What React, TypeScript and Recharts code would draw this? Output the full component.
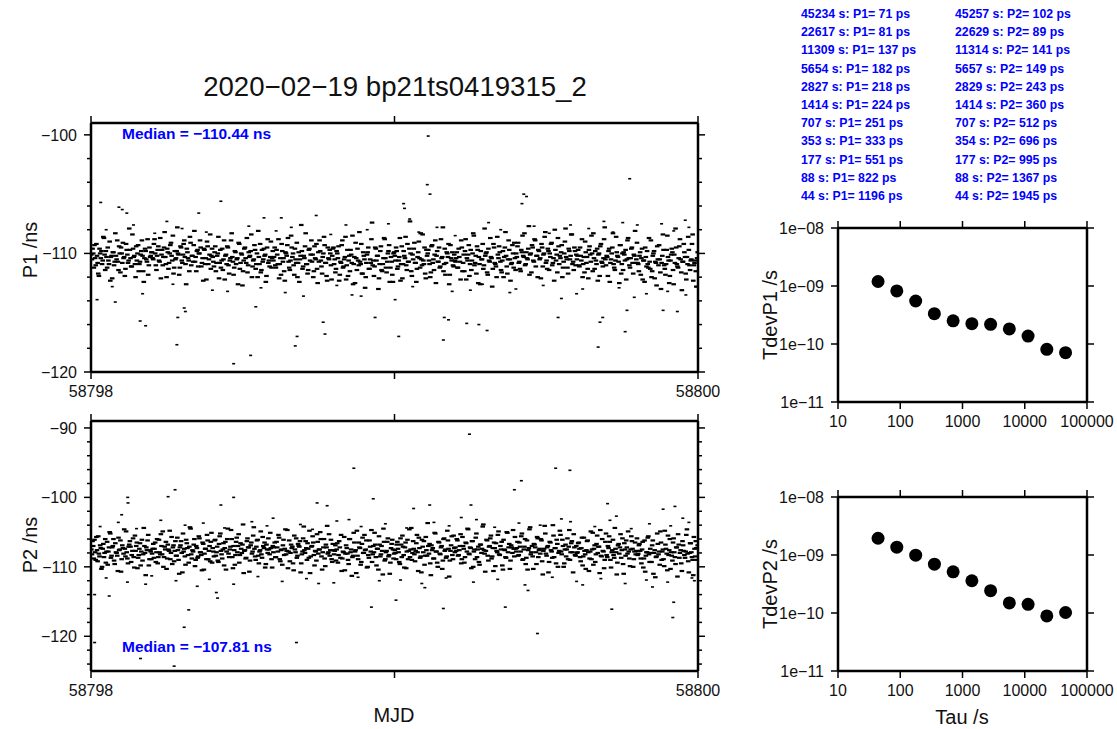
import { ScatterChart, Scatter, XAxis, YAxis } from 'recharts';

// ---- data ----
const MJD_START = 58798;
const MJD_END = 58800;

// P1 samples (ns), two interleaved sample sets spread evenly over the two days
const P1_BAND_A = [
  -110.1, -109.6, -111.2, -110.4, -109.2, -110.8, -111.9, -110.0, -109.8, -110.6, -108.7, -111.4, -110.3, -109.5, -110.9, -112.3, -110.2, -109.9, -111.0, -108.3, -110.5, -110.7, -109.4, -111.6, -110.0, -109.1, -110.3, -111.3, -109.7, -110.8, -107.9, -110.4, -111.1, -109.6, -110.2, -112.0, -110.6, -109.3, -110.9, -110.1, -108.9, -111.5, -110.4, -109.8, -110.7, -111.8, -109.5, -110.2,
  -109.9, -110.5, -108.8, -111.0, -110.2, -109.4, -110.7, -112.1, -109.7, -110.3, -108.2, -110.9, -109.6, -111.3, -110.0, -109.1, -110.6, -111.7, -109.8, -110.4, -107.8, -110.1, -111.2, -109.5, -110.8, -109.2, -110.3, -112.6, -109.9, -110.6, -108.6, -111.0, -110.2, -109.3, -110.7, -111.5, -109.7, -110.0, -108.9, -111.1, -110.4, -109.6, -110.9, -112.2, -109.4, -110.5, -108.4, -110.2,
  -110.3, -111.1, -109.4, -110.8, -110.0, -112.1, -109.7, -110.6, -111.4, -108.9, -110.2, -110.9, -109.5, -111.7, -110.4, -108.3, -110.7, -111.2, -109.9, -110.5, -112.6, -109.2, -110.8, -110.1, -111.5, -109.6, -110.4, -108.7, -111.0, -110.3, -109.8, -112.0, -110.6, -109.3, -111.3, -110.0, -108.1, -110.9, -111.6, -109.7, -110.5, -110.2, -112.4, -109.5, -110.8, -111.1, -109.0, -110.4,
  -110.6, -109.5, -111.2, -110.1, -108.8, -110.9, -111.8, -109.8, -110.4, -112.3, -110.0, -109.3, -110.7, -111.4, -108.5, -110.3, -111.0, -109.6, -110.8, -112.0, -109.9, -110.5, -107.6, -111.3, -110.2, -109.4, -110.9, -111.7, -109.7, -110.6, -108.9, -110.1, -111.5, -110.4, -109.2, -112.5, -110.7, -109.8, -111.1, -110.3, -108.6, -110.8, -111.9, -109.5, -110.5, -110.0, -112.2, -109.6,
  -110.9, -111.6, -109.8, -110.4, -112.3, -110.7, -109.3, -111.2, -110.5, -108.6, -111.0, -111.9, -110.2, -109.7, -110.8, -112.6, -110.3, -109.1, -111.4, -110.6, -108.2, -110.9, -111.7, -109.9, -110.5, -112.0, -110.1, -109.5, -111.3, -110.8, -107.4, -110.6, -111.1, -109.6, -110.2, -113.0, -110.9, -109.4, -111.5, -110.4, -108.8, -111.2, -110.7, -109.8, -112.4, -110.3, -111.8, -110.0,
  -110.2, -109.5, -111.3, -110.6, -108.7, -110.9, -112.1, -109.8, -110.4, -111.0, -109.2, -110.7, -107.3, -111.5, -110.1, -109.6, -110.8, -112.4, -110.3, -109.0, -111.2, -110.5, -108.4, -110.9, -111.7, -109.7, -110.0, -110.6, -112.0, -109.4, -110.8, -111.4, -108.9, -110.2, -110.7, -109.5, -111.1, -110.4, -107.8, -110.9, -111.8, -109.9, -110.3, -112.6, -109.3, -110.6, -111.0, -110.1,
  -110.7, -109.9, -111.2, -110.3, -112.2, -109.5, -110.8, -111.5, -108.8, -110.4, -110.1, -111.9, -109.7, -110.6, -108.3, -111.0, -110.2, -109.4, -112.5, -110.9, -109.8, -110.5, -111.3, -107.9, -110.0, -111.6, -109.6, -110.7, -110.3, -112.8, -109.2, -110.8, -111.1, -108.6, -110.4, -109.9, -111.4, -110.6, -112.0, -109.5, -110.2, -111.7, -108.9, -110.5, -110.9, -109.3, -111.2, -110.4,
  -110.0, -109.4, -110.8, -111.3, -109.7, -108.5, -110.3, -111.0, -109.9, -110.5, -107.7, -110.1, -111.6, -109.5, -110.7, -108.9, -110.2, -112.0, -109.8, -110.4, -109.2, -111.1, -110.0, -108.2, -110.6, -109.6, -111.4, -110.3, -109.1, -110.8, -112.3, -109.7, -110.1, -108.7, -110.9, -110.4, -109.3, -111.2, -110.0, -107.9, -110.5, -111.7, -109.8, -110.2, -108.4, -110.7, -109.5, -111.0,
  -110.5, -109.7, -111.1, -110.2, -108.8, -110.9, -111.6, -109.9, -110.3, -112.1, -109.4, -110.7, -110.0, -108.3, -111.3, -110.6, -109.6, -110.1, -111.9, -109.2, -110.8, -110.4, -107.8, -111.0, -110.3, -109.8, -112.4, -110.5, -109.5, -110.9, -111.4, -108.6, -110.2, -110.7, -109.3, -111.7, -110.0, -109.9, -110.6, -112.2, -108.9, -110.4, -111.2, -109.6, -110.8, -110.1, -108.1, -110.5,
  -110.8, -111.5, -109.9, -110.4, -112.2, -110.6, -109.5, -111.1, -110.9, -108.7, -111.3, -112.0, -110.2, -109.8, -110.7, -112.7, -110.5, -109.3, -111.6, -110.8, -108.4, -111.0, -111.8, -109.7, -110.3, -112.5, -110.6, -109.6, -111.4, -110.1, -107.9, -110.9, -111.2, -109.4, -110.5, -113.1, -110.7, -109.9, -111.7, -110.3, -108.6, -111.0, -110.6, -109.2, -112.3, -110.8, -111.5, -110.4,
];
const P1_BAND_B = [
  -110.5, -110.0, -109.3, -111.0, -110.2, -111.7, -109.6, -110.4, -110.9, -108.6, -110.1, -109.8, -111.2, -110.6, -109.0, -110.3, -112.1, -109.9, -110.7, -110.2, -108.9, -111.4, -110.0, -109.5, -110.8, -110.4, -111.9, -109.2, -110.1, -110.6, -109.7, -111.1, -108.4, -110.3, -110.9, -109.4, -110.0, -111.5, -110.7, -109.8, -110.2, -112.4, -109.6, -110.5, -108.8, -111.0, -110.3, -109.9,
  -110.4, -109.2, -110.0, -111.4, -109.7, -110.6, -108.7, -110.1, -111.0, -109.5, -110.3, -112.0, -109.9, -110.8, -109.3, -110.2, -108.5, -111.2, -110.5, -109.8, -110.0, -111.8, -109.4, -110.6, -110.1, -108.9, -110.9, -109.6, -110.4, -111.5, -109.1, -110.2, -110.7, -108.1, -110.3, -109.8, -111.1, -110.0, -109.5, -110.8, -112.3, -109.7, -110.4, -109.0, -110.9, -110.1, -111.3, -109.6,
  -110.7, -109.9, -111.5, -110.2, -108.6, -110.8, -111.2, -109.6, -110.5, -112.2, -110.1, -109.4, -111.0, -110.6, -108.9, -110.3, -111.8, -109.8, -110.9, -110.4, -109.1, -111.3, -110.0, -112.7, -110.6, -109.5, -110.8, -111.6, -109.9, -110.2, -108.4, -111.1, -110.5, -109.7, -110.9, -112.0, -110.3, -109.2, -111.4, -110.7, -109.6, -110.1, -111.9, -108.8, -110.6, -110.3, -111.2, -109.8,
  -110.3, -111.0, -109.7, -110.9, -112.1, -110.4, -109.2, -110.7, -111.5, -109.9, -110.2, -108.7, -111.2, -110.6, -109.5, -110.0, -111.8, -110.5, -109.1, -110.8, -112.4, -110.2, -109.8, -111.1, -110.4, -108.3, -110.9, -111.4, -109.6, -110.1, -110.7, -112.0, -109.4, -110.5, -111.3, -109.9, -108.9, -110.6, -111.7, -110.0, -109.3, -110.8, -112.3, -110.4, -109.7, -111.0, -110.2, -109.5,
  -110.5, -111.3, -110.0, -109.4, -111.8, -110.8, -108.9, -111.1, -110.3, -112.2, -109.7, -110.6, -111.5, -110.1, -108.5, -110.9, -112.5, -110.4, -109.6, -111.0, -110.7, -109.2, -111.7, -110.2, -112.9, -110.8, -109.9, -111.3, -110.5, -108.8, -111.0, -111.9, -109.5, -110.6, -110.2, -112.1, -109.8, -111.4, -110.9, -108.7, -110.4, -111.6, -110.0, -109.3, -111.2, -110.7, -112.4, -109.9,
  -110.6, -109.8, -111.1, -110.3, -112.3, -109.4, -110.9, -110.2, -108.6, -111.4, -110.7, -109.6, -110.0, -111.9, -110.5, -109.1, -110.8, -111.3, -109.9, -110.4, -108.3, -111.0, -110.6, -109.5, -112.1, -110.2, -109.7, -110.9, -111.6, -109.3, -110.5, -110.1, -112.5, -109.8, -110.7, -111.2, -108.8, -110.3, -111.5, -109.6, -110.8, -110.0, -109.2, -111.8, -110.4, -109.9, -111.1, -110.6,
  -110.4, -111.2, -109.6, -110.7, -108.9, -111.5, -110.1, -109.8, -112.2, -110.6, -109.3, -110.9, -111.4, -110.0, -108.5, -110.8, -111.7, -109.7, -110.3, -112.6, -110.5, -109.2, -111.0, -110.2, -109.9, -111.8, -110.6, -108.7, -110.4, -111.3, -109.5, -110.9, -112.0, -110.1, -109.4, -110.7, -111.6, -109.8, -110.3, -108.2, -111.1, -110.5, -109.7, -112.3, -110.8, -110.0, -109.1, -111.4,
  -110.3, -109.1, -110.7, -111.5, -109.9, -110.2, -108.3, -110.9, -110.4, -109.6, -111.8, -110.0, -109.3, -110.6, -108.8, -111.1, -110.2, -109.7, -110.5, -112.1, -109.5, -110.1, -108.6, -110.8, -111.3, -109.8, -110.0, -109.2, -111.0, -110.4, -108.0, -110.6, -111.6, -109.4, -110.2, -109.9, -112.0, -110.7, -109.0, -110.3, -111.2, -109.6, -110.5, -108.4, -110.9, -111.4, -109.8, -110.1,
  -110.2, -111.0, -109.5, -110.6, -112.0, -110.3, -109.0, -110.8, -111.3, -109.7, -110.1, -108.5, -111.5, -110.4, -109.8, -110.9, -112.3, -110.0, -109.4, -110.7, -111.1, -108.8, -110.5, -110.2, -111.9, -109.6, -110.8, -110.0, -108.3, -111.2, -110.6, -109.9, -110.3, -112.5, -109.3, -110.9, -111.4, -110.1, -109.7, -110.5, -108.7, -111.0, -110.4, -109.5, -111.7, -110.2, -110.8, -109.1,
  -110.9, -110.2, -111.8, -109.6, -110.6, -112.4, -110.3, -109.8, -111.2, -110.7, -108.9, -111.5, -110.0, -112.1, -110.8, -109.4, -111.0, -110.5, -113.0, -110.2, -109.7, -111.3, -110.9, -108.5, -110.6, -111.9, -110.1, -109.9, -112.6, -110.8, -109.5, -111.1, -110.4, -108.8, -111.6, -110.7, -109.2, -110.3, -112.2, -110.9, -109.7, -111.4, -110.5, -108.4, -111.0, -110.6, -112.8, -109.9,
];

// P1 scattered points away from the band
const P1_OUT_MJD = [
  58799.111, 58799.108, 58799.117, 58799.775, 58798.032, 58798.092, 58798.103, 58798.118, 58798.428, 58799.03,
  58799.033, 58799.426, 58799.435, 58799.42, 58799.752, 58799.958, 58798.355, 58798.57, 58798.742, 58798.627,
  58798.162, 58798.18, 58798.283, 58798.286, 58798.307, 58798.311, 58798.47, 58798.526, 58798.673, 58798.679,
  58798.765, 58798.771, 58798.936, 58799.014, 58799.002, 58799.161, 58799.164, 58799.178, 58799.238, 58799.278,
  58799.305, 58799.539, 58799.671, 58799.677, 58799.686, 58799.76, 58799.766, 58799.885, 58799.932, 58798.02,
  58798.08, 58798.543, 58799.993, 58798.45, 58798.86, 58799.38, 58799.55, 58799.83, 58799.62, 58798.7,
  58799.25, 58798.25, 58798.98, 58799.31, 58799.58, 58799.88, 58799.05, 58799.69,
  58798.05, 58798.14, 58798.21, 58798.3, 58798.38, 58798.52, 58798.61, 58798.66, 58798.79, 58798.84,
  58798.91, 58799.08, 58799.14, 58799.2, 58799.35, 58799.46, 58799.51, 58799.64, 58799.72, 58799.8,
  58799.92, 58799.97, 58798.07, 58798.17, 58798.27, 58798.4, 58798.56, 58798.64, 58798.81, 58798.89,
  58799.06, 58799.19, 58799.29, 58799.4, 58799.49, 58799.6, 58799.74, 58799.79, 58799.9, 58799.96,
];
const P1_OUT_NS = [
  -100.1, -104.2, -105.0, -103.7, -105.7, -106.1, -106.3, -106.6, -105.6, -105.8,
  -106.2, -105.0, -105.2, -105.8, -107.4, -107.2, -106.6, -107.0, -106.8, -107.0,
  -115.7, -116.1, -117.7, -115.4, -114.6, -114.9, -119.3, -118.6, -117.8, -117.0,
  -115.8, -116.8, -115.4, -117.0, -113.9, -117.3, -115.4, -115.6, -115.9, -116.0,
  -116.5, -115.4, -117.9, -115.8, -115.4, -116.6, -114.8, -114.8, -114.9, -113.9,
  -114.1, -114.5, -112.8, -113.2, -113.5, -113.3, -113.8, -113.4, -113.0, -113.6,
  -113.1, -107.3, -107.5, -107.4, -107.6, -107.5, -107.1, -107.3,
  -108.0, -107.6, -108.3, -107.9, -108.2, -107.7, -108.1, -107.8, -108.4, -107.6,
  -108.0, -108.2, -107.8, -108.5, -108.0, -107.7, -108.3, -107.9, -108.2, -107.6,
  -108.1, -107.8, -112.8, -113.4, -112.6, -113.1, -112.9, -113.3, -112.7, -113.6,
  -112.8, -113.2, -112.6, -113.0, -112.7, -113.4, -112.9, -113.7, -113.2, -113.5,
];

// P2 samples (ns)
const P2_BAND_A = [
  -107.5, -106.3, -108.8, -107.9, -105.7, -109.2, -108.1, -106.9, -110.3, -107.4, -108.6, -106.0, -107.8, -109.7, -107.2, -105.2, -108.4, -107.0, -109.1, -106.6, -108.0, -110.6, -107.6, -106.2, -108.9, -107.3, -104.6, -108.5, -107.9, -109.5, -106.8, -107.1, -108.3, -105.9, -110.1, -107.7, -106.5, -108.7, -107.4, -109.8, -106.1, -108.2, -107.0, -111.2, -107.6, -105.4, -108.9, -107.8,
  -108.1, -106.7, -107.4, -109.3, -106.0, -108.6, -107.9, -105.3, -108.2, -110.0, -107.1, -106.4, -108.8, -107.5, -104.8, -108.0, -109.6, -106.9, -107.7, -108.4, -105.8, -109.0, -107.2, -106.3, -110.8, -107.8, -108.5, -106.1, -107.3, -109.4, -104.3, -108.2, -107.6, -106.8, -109.9, -107.0, -108.7, -105.6, -107.9, -108.3, -106.5, -110.4, -107.4, -108.9, -106.2, -107.7, -109.2, -105.1,
  -107.3, -108.5, -106.1, -107.9, -109.1, -106.7, -105.2, -108.2, -107.5, -109.8, -106.4, -107.8, -104.5, -108.6, -107.1, -106.0, -110.2, -107.6, -108.3, -105.8, -107.0, -109.4, -106.6, -108.0, -103.9, -107.7, -108.8, -106.3, -107.2, -110.7, -106.9, -108.1, -105.5, -107.4, -109.0, -106.2, -108.4, -107.8, -104.9, -108.7, -107.0, -106.5, -109.6, -107.5, -105.9, -108.2, -107.3, -110.1,
  -107.9, -106.5, -108.6, -107.2, -105.4, -108.9, -107.6, -109.7, -106.1, -107.4, -108.2, -104.7, -107.8, -109.2, -106.8, -107.1, -110.5, -107.5, -105.9, -108.4, -107.0, -106.3, -109.5, -107.8, -104.2, -108.0, -107.3, -106.6, -108.7, -110.9, -107.1, -105.6, -108.3, -107.7, -109.1, -106.4, -107.5, -105.0, -108.5, -107.9, -106.0, -109.9, -107.2, -108.1, -105.3, -107.6, -108.9, -106.7,
  -108.2, -106.9, -107.5, -109.4, -106.3, -108.7, -110.6, -107.8, -105.7, -108.1, -107.3, -109.0, -106.0, -107.9, -111.3, -108.4, -106.5, -107.6, -104.8, -108.9, -107.2, -109.7, -106.7, -108.0, -105.4, -107.5, -110.1, -108.3, -106.2, -107.8, -109.3, -107.0, -105.1, -108.6, -107.4, -110.4, -106.8, -108.2, -107.7, -104.5, -109.1, -107.9, -106.4, -108.5, -111.0, -107.3, -106.1, -108.8,
  -107.6, -108.9, -106.4, -107.9, -109.6, -106.8, -105.5, -108.3, -107.2, -110.2, -106.1, -107.7, -108.6, -104.4, -108.0, -107.4, -109.2, -106.6, -107.9, -105.8, -108.7, -110.8, -107.1, -106.3, -108.4, -107.6, -103.7, -108.1, -109.5, -106.9, -107.3, -108.8, -105.2, -107.8, -110.0, -106.5, -108.2, -107.0, -109.1, -105.9, -107.5, -108.5, -106.2, -111.4, -107.7, -105.6, -108.9, -107.3,
  -107.2, -106.0, -108.4, -107.6, -105.3, -108.9, -107.0, -109.4, -106.5, -107.8, -104.6, -108.2, -107.3, -106.3, -110.0, -107.5, -105.8, -108.6, -107.1, -109.7, -106.8, -107.4, -103.9, -108.1, -107.7, -106.2, -109.1, -107.0, -105.5, -108.5, -110.6, -107.3, -106.6, -107.9, -104.9, -108.3, -107.5, -109.8, -106.1, -107.6, -108.7, -105.1, -107.2, -110.3, -106.9, -108.0, -107.4, -105.7,
  -107.8, -106.4, -108.3, -107.1, -105.6, -109.0, -107.5, -106.0, -108.7, -110.4, -107.3, -104.3, -107.9, -108.5, -106.7, -107.2, -109.6, -105.9, -107.6, -108.1, -106.2, -111.1, -107.4, -105.2, -108.4, -107.0, -109.3, -106.5, -107.8, -104.0, -108.6, -107.3, -106.1, -110.0, -107.7, -105.4, -108.2, -107.0, -109.5, -106.8, -107.5, -108.9, -104.7, -107.9, -106.3, -110.8, -107.2, -108.4,
  -108.0, -106.6, -107.4, -109.2, -105.8, -108.5, -107.7, -110.3, -106.3, -107.9, -108.8, -104.9, -107.5, -109.7, -106.9, -108.2, -105.5, -107.1, -110.9, -108.4, -106.0, -107.8, -109.0, -105.2, -108.6, -107.3, -106.4, -110.1, -107.6, -108.3, -104.4, -107.9, -109.4, -106.7, -107.2, -108.7, -105.9, -111.0, -107.5, -106.2, -108.1, -107.8, -109.9, -105.6, -107.4, -108.9, -106.5, -107.7,
  -108.3, -106.9, -107.7, -109.5, -106.4, -108.8, -110.7, -107.9, -105.8, -108.2, -107.4, -109.3, -106.2, -108.0, -111.5, -108.5, -106.7, -107.8, -104.9, -109.0, -107.5, -109.9, -106.8, -108.1, -105.5, -107.6, -110.3, -108.4, -106.5, -107.9, -109.6, -107.2, -105.3, -108.7, -107.6, -110.6, -106.9, -108.3, -107.8, -104.6, -109.2, -108.0, -106.6, -108.6, -111.2, -107.4, -106.3, -109.0,
];
const P2_BAND_B = [
  -108.2, -107.0, -106.1, -109.0, -107.6, -105.6, -108.5, -107.3, -110.0, -106.7, -108.0, -109.4, -106.4, -107.8, -105.0, -108.7, -107.2, -106.0, -109.6, -107.9, -108.4, -105.8, -107.5, -110.7, -106.9, -108.1, -107.4, -104.9, -108.8, -107.1, -106.3, -109.3, -107.7, -108.6, -105.5, -107.0, -110.2, -108.3, -106.6, -107.8, -109.1, -104.4, -108.0, -107.2, -106.2, -109.8, -107.6, -108.9,
  -107.4, -108.7, -106.5, -107.9, -109.5, -106.1, -108.2, -107.0, -104.9, -108.6, -107.5, -110.3, -106.8, -107.7, -108.9, -105.7, -107.2, -109.2, -106.3, -108.4, -107.6, -111.0, -106.9, -108.0, -105.2, -107.4, -109.7, -106.6, -108.3, -107.1, -104.5, -108.8, -107.8, -106.0, -109.0, -107.3, -108.5, -105.9, -107.9, -110.5, -106.7, -108.1, -107.4, -105.4, -108.9, -107.0, -106.4, -109.4,
  -107.8, -106.2, -108.4, -107.1, -109.3, -105.6, -107.7, -108.8, -106.6, -107.3, -110.4, -106.0, -108.1, -107.5, -104.7, -108.6, -107.0, -109.7, -106.4, -107.9, -105.3, -108.3, -107.4, -106.8, -110.9, -107.6, -108.7, -105.9, -107.2, -109.1, -106.5, -107.8, -104.3, -108.5, -107.1, -106.1, -109.5, -107.6, -108.2, -105.7, -107.3, -110.1, -106.8, -108.0, -107.5, -105.1, -108.9, -107.0,
  -107.2, -108.6, -106.4, -107.8, -105.8, -109.2, -107.5, -106.9, -108.3, -104.6, -107.7, -110.2, -106.2, -108.0, -107.3, -109.5, -105.5, -107.9, -108.7, -106.7, -107.1, -110.8, -108.2, -105.9, -107.6, -106.3, -109.0, -107.4, -104.8, -108.5, -107.0, -106.5, -109.8, -107.8, -105.3, -108.1, -107.5, -106.0, -110.4, -107.2, -108.8, -106.8, -104.1, -107.9, -108.4, -106.1, -109.3, -107.6,
  -107.7, -109.1, -106.6, -108.3, -107.2, -105.4, -108.8, -107.9, -110.5, -106.9, -108.1, -109.6, -106.0, -107.5, -108.6, -105.1, -107.8, -110.9, -108.4, -106.5, -107.3, -109.3, -105.8, -108.0, -107.6, -106.2, -110.0, -108.7, -107.1, -104.7, -108.2, -107.9, -106.8, -109.8, -107.4, -105.6, -108.5, -107.0, -111.1, -106.4, -108.9, -107.7, -105.9, -108.3, -109.4, -106.7, -107.5, -108.1,
  -108.0, -106.8, -107.4, -109.3, -105.9, -108.6, -107.1, -110.1, -106.5, -107.8, -108.9, -104.6, -107.5, -109.0, -106.3, -108.2, -107.7, -105.4, -110.6, -107.3, -108.5, -106.1, -107.9, -109.7, -105.7, -108.4, -107.0, -106.7, -111.2, -107.6, -108.8, -105.1, -107.8, -109.4, -106.4, -108.1, -107.2, -110.3, -106.0, -107.7, -108.7, -104.8, -107.4, -109.1, -106.9, -108.3, -105.5, -107.9,
  -107.7, -106.2, -108.3, -107.0, -109.5, -105.7, -107.4, -108.6, -106.6, -104.5, -108.1, -107.2, -110.2, -106.3, -107.8, -108.9, -105.2, -107.5, -109.3, -106.8, -108.0, -104.2, -107.6, -110.7, -106.1, -108.4, -107.1, -105.9, -108.8, -107.3, -106.5, -109.9, -107.7, -105.4, -108.2, -107.0, -106.4, -110.4, -107.5, -108.6, -105.0, -107.9, -106.7, -109.1, -107.2, -104.7, -108.5, -107.4,
  -107.3, -108.4, -106.5, -107.8, -105.2, -108.9, -107.1, -109.6, -106.2, -107.6, -104.6, -108.2, -107.0, -110.3, -106.8, -107.9, -105.7, -108.6, -107.4, -106.0, -109.2, -107.7, -104.1, -108.1, -107.2, -110.8, -106.4, -107.6, -108.7, -105.5, -107.3, -109.5, -106.7, -108.0, -104.8, -107.8, -106.1, -110.0, -107.5, -108.5, -105.9, -107.1, -109.0, -106.6, -107.9, -105.3, -108.3, -107.0,
  -107.9, -106.5, -108.6, -107.3, -109.8, -105.8, -108.2, -107.6, -106.2, -110.6, -107.8, -108.9, -105.1, -107.4, -109.3, -106.7, -108.0, -107.1, -104.7, -108.5, -107.7, -110.2, -106.4, -108.3, -107.0, -105.6, -109.0, -107.9, -106.1, -108.7, -107.4, -111.1, -106.9, -108.1, -105.3, -107.6, -109.6, -106.6, -108.4, -107.2, -104.9, -108.8, -107.5, -106.3, -110.0, -107.8, -108.2, -105.9,
  -108.1, -106.7, -108.8, -107.5, -110.1, -106.2, -108.4, -107.9, -105.6, -109.3, -108.0, -106.9, -111.0, -107.6, -108.6, -105.2, -108.2, -109.7, -106.5, -107.8, -108.9, -104.8, -107.4, -110.5, -108.3, -106.0, -107.9, -109.1, -105.9, -108.6, -107.2, -111.4, -106.8, -108.0, -109.5, -106.3, -107.7, -108.7, -105.4, -108.1, -110.8, -106.6, -107.9, -109.0, -105.7, -108.5, -107.3, -106.9,
];

const P2_OUT_MJD = [
  58799.247, 58798.866, 58799.531, 58799.578, 58799.418, 58799.395, 58798.277, 58798.254, 58798.121, 58798.122,
  58798.47, 58798.93, 58798.101, 58799.702, 58799.924, 58799.885, 58799.731, 58799.252, 58798.745, 58798.778,
  58799.116, 58799.063, 58798.428, 58798.012, 58798.06, 58798.322, 58798.307, 58798.012, 58798.163, 58798.274,
  58798.677, 58798.924, 58799.005, 58799.161, 58799.365, 58799.471, 58799.716, 58799.92, 58799.917, 58798.413,
  58798.417, 58799.44, 58799.988, 58798.6, 58798.85, 58799.22, 58799.55, 58799.95, 58798.35, 58798.75,
  58799.1, 58799.62, 58799.85, 58798.18,
  58798.03, 58798.09, 58798.15, 58798.23, 58798.31, 58798.37, 58798.44, 58798.53, 58798.58, 58798.69,
  58798.73, 58798.81, 58798.89, 58798.97, 58799.04, 58799.13, 58799.18, 58799.27, 58799.33, 58799.41,
  58799.48, 58799.58, 58799.66, 58799.71, 58799.78, 58799.84, 58799.91, 58799.97,
  58798.05, 58798.12, 58798.2, 58798.28, 58798.39, 58798.47, 58798.55, 58798.63, 58798.71, 58798.8,
  58798.88, 58798.95, 58799.02, 58799.09, 58799.17, 58799.26, 58799.34, 58799.43, 58799.52, 58799.6,
  58799.68, 58799.76, 58799.83, 58799.9, 58799.98,
];
const P2_OUT_NS = [
  -90.9, -95.8, -95.8, -96.1, -97.6, -98.9, -98.9, -99.9, -100.0, -100.8,
  -100.0, -100.2, -102.5, -100.9, -101.3, -101.7, -102.7, -101.1, -100.8, -101.2,
  -101.1, -101.6, -101.1, -114.0, -114.2, -116.2, -118.7, -120.9, -123.2, -124.3,
  -120.9, -115.8, -114.8, -116.0, -115.8, -119.6, -116.1, -115.1, -117.3, -113.7,
  -114.5, -113.4, -112.0, -103.0, -103.2, -102.9, -103.1, -103.0, -112.8, -112.4,
  -113.0, -112.6, -112.9, -112.5,
  -104.2, -103.6, -104.5, -103.3, -104.0, -103.7, -104.4, -103.5, -104.1, -103.9,
  -104.6, -103.4, -104.2, -103.8, -104.4, -103.6, -104.1, -103.2, -104.3, -103.7,
  -104.0, -103.5, -104.2, -103.3, -104.5, -103.8, -104.1, -103.6,
  -111.6, -112.2, -111.3, -112.0, -111.8, -112.5, -111.4, -112.1, -111.7, -112.3,
  -111.5, -112.0, -111.9, -112.4, -111.6, -112.2, -111.8, -112.6, -111.5, -112.1,
  -111.7, -112.4, -111.9, -112.2, -111.6,
];

const P1_MEDIAN = -110.44;
const P2_MEDIAN = -107.81;

// time deviation: tau (s) and TDEV (ps)
const TAU_P1 = [44, 88, 177, 353, 707, 1414, 2827, 5654, 11309, 22617, 45234];
const TDEV_P1_PS = [1196, 822, 551, 333, 251, 224, 218, 182, 137, 81, 71];
const TAU_P2 = [44, 88, 177, 354, 707, 1414, 2829, 5657, 11314, 22629, 45257];
const TDEV_P2_PS = [1945, 1367, 995, 696, 512, 360, 243, 149, 141, 89, 102];

// axis ticks
const MJD_TICKS = [58798, 58799, 58800];
const MJD_LABELED = [58798, 58800];
const P1_TICKS = [-120, -118, -116, -114, -112, -110, -108, -106, -104, -102, -100];
const P2_TICKS = [-124, -122, -120, -118, -116, -114, -112, -110, -108, -106, -104, -102, -100, -98, -96, -94, -92, -90];
const TAU_TICKS = [10, 100, 1000, 10000, 100000];
const TDEV_TICKS = [1e-11, 1e-10, 1e-9, 1e-8];

const W = 1117;
const H = 729;
const FONT = '"Liberation Sans", Arial, Helvetica, sans-serif';
const BLUE = '#0000ff';

const minus = (s: string) => s.replace(/-/g, '\u2212');

type Pt = { x: number; y: number };

// interleave the sample sets on a regular time grid
const sampled = (sets: number[][]): Pt[] => {
  const out: Pt[] = [];
  sets.forEach((vals, k) => {
    const n = vals.length;
    vals.forEach((v, i) => {
      out.push({ x: MJD_START + ((i + (k + 0.5) / sets.length) * (MJD_END - MJD_START)) / n, y: v });
    });
  });
  return out;
};
const pairs = (xs: number[], ys: number[]): Pt[] => xs.map((x, i) => ({ x, y: ys[i] }));

const P1_DATA = sampled([P1_BAND_A, P1_BAND_B]);
const P1_SPARSE = pairs(P1_OUT_MJD, P1_OUT_NS);
const P2_DATA = sampled([P2_BAND_A, P2_BAND_B]);
const P2_SPARSE = pairs(P2_OUT_MJD, P2_OUT_NS);
const T1_DATA = pairs(TAU_P1, TDEV_P1_PS.map((v) => v * 1e-12));
const T2_DATA = pairs(TAU_P2, TDEV_P2_PS.map((v) => v * 1e-12));

type Side = 'left' | 'right' | 'top' | 'bottom';

// tick with its own line so majors/minors get different lengths
const makeTick = (side: Side, isMajor: (v: number) => boolean, fmt?: (v: number) => string) => (p: any) => {
  const { x, y, payload } = p;
  const v = payload.value;
  const len = isMajor(v) ? 7 : 4;
  let x2 = x;
  let y2 = y;
  if (side === 'left') x2 = x - len;
  if (side === 'right') x2 = x + len;
  if (side === 'top') y2 = y - len;
  if (side === 'bottom') y2 = y + len;
  const label = fmt ? fmt(v) : '';
  return (
    <g>
      <line x1={x} y1={y} x2={x2} y2={y2} stroke="#000" strokeWidth={1.5} />
      {label && side === 'left' && (
        <text x={x - 14} y={y} dy="0.36em" textAnchor="end" fontSize={16} fontFamily={FONT} fill="#111">
          {label}
        </text>
      )}
      {label && side === 'bottom' && (
        <text x={x} y={y + 25} textAnchor="middle" fontSize={16} fontFamily={FONT} fill="#111">
          {label}
        </text>
      )}
    </g>
  );
};

const bandDash = (p: any) => <rect x={p.cx - 2.3} y={p.cy - 1.1} width={4.6} height={2.2} fill="#000" />;
const dash = (p: any) => <rect x={p.cx - 1.5} y={p.cy - 0.8} width={3} height={1.6} fill="#000" />;
const dot = (p: any) => <circle cx={p.cx} cy={p.cy} r={6.5} fill="#000" />;
const nothing = () => <g />;

const axisLine = { stroke: '#000', strokeWidth: 2.5 };

interface PanelProps {
  box: { l: number; t: number; r: number; b: number };
  data: Pt[];
  sparse?: Pt[];
  log?: boolean;
  xDomain: number[];
  yDomain: number[];
  xTicks: number[];
  yTicks: number[];
  yMajor: (v: number) => boolean;
  xFmt: (v: number) => string;
  yFmt: (v: number) => string;
  shape: (p: any) => any;
}

const allMajor = () => true;

function Panel({ box, data, sparse, log, xDomain, yDomain, xTicks, yTicks, yMajor, xFmt, yFmt, shape }: PanelProps) {
  const scale = log ? 'log' : 'linear';
  return (
    <div style={{ position: 'absolute', left: 0, top: 0 }}>
      <ScatterChart width={W} height={H} margin={{ top: box.t - 1, right: W - box.r - 1, bottom: 0, left: 0 }}>
        <XAxis xAxisId="b" orientation="bottom" type="number" dataKey="x" scale={scale} domain={xDomain} allowDataOverflow
          ticks={xTicks} interval={0} height={H - box.b} tickSize={0} tickMargin={0} tickLine={false} axisLine={axisLine}
          tick={makeTick('bottom', allMajor, xFmt)} />
        <XAxis xAxisId="t" orientation="top" type="number" dataKey="x" scale={scale} domain={xDomain} allowDataOverflow
          ticks={xTicks} interval={0} height={1} tickSize={0} tickMargin={0} tickLine={false} axisLine={axisLine}
          tick={makeTick('top', allMajor)} />
        <YAxis yAxisId="l" orientation="left" type="number" dataKey="y" scale={scale} domain={yDomain} allowDataOverflow
          ticks={yTicks} interval={0} width={box.l} tickSize={0} tickMargin={0} tickLine={false} axisLine={axisLine}
          tick={makeTick('left', yMajor, yFmt)} />
        <YAxis yAxisId="r" orientation="right" type="number" dataKey="y" scale={scale} domain={yDomain} allowDataOverflow
          ticks={yTicks} interval={0} width={1} tickSize={0} tickMargin={0} tickLine={false} axisLine={axisLine}
          tick={makeTick('right', yMajor)} />
        <Scatter data={data} xAxisId="t" yAxisId="r" shape={nothing} isAnimationActive={false} />
        <Scatter data={data} xAxisId="b" yAxisId="l" shape={shape} isAnimationActive={false} />
        {sparse && <Scatter data={sparse} xAxisId="b" yAxisId="l" shape={dash} isAnimationActive={false} />}
      </ScatterChart>
    </div>
  );
}

const mjdFmt = (v: number) => (MJD_LABELED.includes(v) ? String(v) : '');
const nsMajor = (v: number) => v % 10 === 0;
const nsFmt = (v: number) => (v % 10 === 0 ? minus(String(v)) : '');
const tauFmt = (v: number) => String(Math.round(v));
const tdevFmt = (v: number) => {
  const e = Math.round(Math.log10(v));
  return `1e\u2212${String(-e).padStart(2, '0')}`;
};

const abs = (o: Record<string, any>) => ({ position: 'absolute' as const, whiteSpace: 'nowrap' as const, ...o });
const rotLabel = (text: string, cx: number, cy: number) => (
  <div style={abs({ left: cx, top: cy, transform: 'translate(-50%, -50%) rotate(-90deg)', fontSize: 20, lineHeight: '20px' })}>{text}</div>
);

export default function App() {
  const rows = TAU_P1.map((_, i) => TAU_P1.length - 1 - i);
  return (
    <div style={{ position: 'absolute', left: 0, top: 0, width: W, height: H, background: '#fff', fontFamily: FONT, color: '#111', overflow: 'hidden' }}>
      <Panel box={{ l: 91, t: 123, r: 698, b: 372 }} data={P1_DATA} sparse={P1_SPARSE} xDomain={[MJD_START, MJD_END]} yDomain={[-120, -99]}
        xTicks={MJD_TICKS} yTicks={P1_TICKS} yMajor={nsMajor} xFmt={mjdFmt} yFmt={nsFmt} shape={bandDash} />
      <Panel box={{ l: 91, t: 421, r: 698, b: 671 }} data={P2_DATA} sparse={P2_SPARSE} xDomain={[MJD_START, MJD_END]} yDomain={[-125, -89]}
        xTicks={MJD_TICKS} yTicks={P2_TICKS} yMajor={nsMajor} xFmt={mjdFmt} yFmt={nsFmt} shape={bandDash} />
      <Panel box={{ l: 838, t: 228, r: 1087, b: 402 }} data={T1_DATA} log xDomain={[10, 100000]} yDomain={[1e-11, 1e-8]}
        xTicks={TAU_TICKS} yTicks={TDEV_TICKS} yMajor={allMajor} xFmt={tauFmt} yFmt={tdevFmt} shape={dot} />
      <Panel box={{ l: 838, t: 497, r: 1087, b: 671 }} data={T2_DATA} log xDomain={[10, 100000]} yDomain={[1e-11, 1e-8]}
        xTicks={TAU_TICKS} yTicks={TDEV_TICKS} yMajor={allMajor} xFmt={tauFmt} yFmt={tdevFmt} shape={dot} />

      <div style={abs({ left: 395, top: 87, transform: 'translate(-50%, -50%)', fontSize: 27.6 })}>{minus('2020-02-19 bp21ts0419315_2')}</div>

      <div style={abs({ left: 122, top: 134, transform: 'translateY(-50%)', fontSize: 15.5, fontWeight: 'bold', color: BLUE })}>
        {minus(`Median = ${P1_MEDIAN.toFixed(2)} ns`)}
      </div>
      <div style={abs({ left: 122, top: 647, transform: 'translateY(-50%)', fontSize: 15.5, fontWeight: 'bold', color: BLUE })}>
        {minus(`Median = ${P2_MEDIAN.toFixed(2)} ns`)}
      </div>

      {rotLabel('P1 /ns', 30, 250)}
      {rotLabel('P2 /ns', 30, 545)}
      {rotLabel('TdevP1 /s', 770, 315)}
      {rotLabel('TdevP2 /s', 770, 584)}
      <div style={abs({ left: 394, top: 715, transform: 'translate(-50%, -50%)', fontSize: 20 })}>MJD</div>
      <div style={abs({ left: 962, top: 717, transform: 'translate(-50%, -50%)', fontSize: 20 })}>Tau /s</div>

      {rows.map((i, k) => (
        <div key={`a${k}`} style={abs({ left: 801, top: 14 + k * 18.2, transform: 'translateY(-50%)', fontSize: 12.3, fontWeight: 'bold', color: BLUE })}>
          {`${TAU_P1[i]} s: P1= ${TDEV_P1_PS[i]} ps`}
        </div>
      ))}
      {rows.map((i, k) => (
        <div key={`b${k}`} style={abs({ left: 955, top: 14 + k * 18.2, transform: 'translateY(-50%)', fontSize: 12.3, fontWeight: 'bold', color: BLUE })}>
          {`${TAU_P2[i]} s: P2= ${TDEV_P2_PS[i]} ps`}
        </div>
      ))}
    </div>
  );
}
